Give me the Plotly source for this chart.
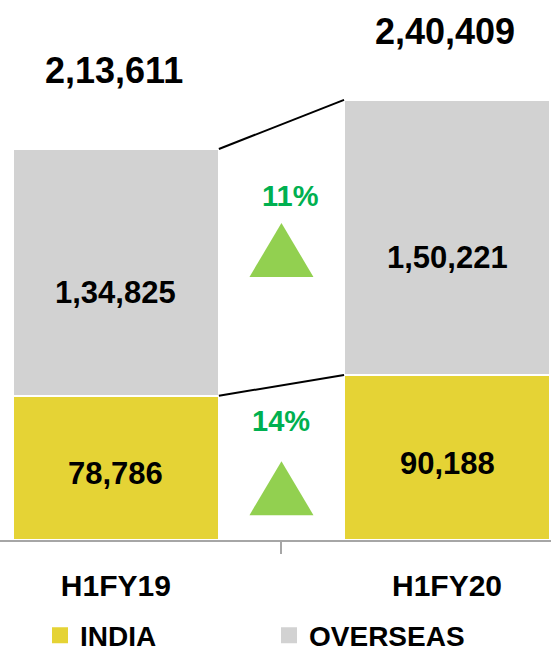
import plotly.graph_objects as go

# data
periods = ['H1FY19', 'H1FY20']
india = [78786, 90188]
overseas = [134825, 150221]
totals = [213611, 240409]
total_labels = ['2,13,611', '2,40,409']
india_labels = ['78,786', '90,188']
overseas_labels = ['1,34,825', '1,50,221']
growth_labels = ['11%', '14%']  # overseas+total growth, india growth

YELLOW = '#E5D335'
GREY = '#D2D2D2'
AXIS = '#A6A6A6'
FONT = 'Liberation Sans, Arial, sans-serif'
BAR_W = 0.622

fig = go.Figure()

fig.add_trace(go.Bar(
    x=periods, y=india, name='INDIA', width=BAR_W, showlegend=False,
    marker=dict(color=YELLOW, line=dict(color='white', width=1.5)),
    hoverinfo='skip'
))
fig.add_trace(go.Bar(
    x=periods, y=overseas, name='OVERSEAS', width=BAR_W, showlegend=False,
    marker=dict(color=GREY, line=dict(color='white', width=1.5)),
    hoverinfo='skip'
))

# legend swatches (bar legend icons are too small)
for name, color in [('INDIA', YELLOW), ('OVERSEAS', GREY)]:
    fig.add_trace(go.Scatter(
        x=[None], y=[None], mode='markers', name=name,
        marker=dict(symbol='square', size=16, color=color),
    ))

# segment labels
for i in range(len(periods)):
    fig.add_annotation(x=periods[i], y=india[i] / 2, text=india_labels[i],
                       showarrow=False, yshift=-6,
                       font=dict(family=FONT, size=31, color='black', weight='bold'))
    fig.add_annotation(x=periods[i], y=india[i] + overseas[i] / 2, text=overseas_labels[i],
                       showarrow=False, yshift=-20,
                       font=dict(family=FONT, size=31, color='black', weight='bold'))

# totals above bars
for i, shift in enumerate([78, 68]):
    fig.add_annotation(x=periods[i], y=totals[i], text=total_labels[i],
                       showarrow=False, yshift=shift, xshift=-2,
                       font=dict(family=FONT, size=36, color='black', weight='bold'))

# connector lines between bar tops
for top0, top1 in [(totals[0], totals[1]), (india[0], india[1])]:
    fig.add_shape(type='line', xref='x', yref='y',
                  x0=0 + BAR_W / 2, y0=top0, x1=1 - BAR_W / 2, y1=top1,
                  line=dict(color='black', width=2))

# growth arrows + percentages
for ypos, label, lab_y, xs in [(0.537, growth_labels[0], 0.637, 9),
                                (0.096, growth_labels[1], 0.187, 0)]:
    fig.add_shape(type='path', xref='x', yref='paper',
                  xsizemode='pixel', ysizemode='pixel',
                  xanchor=0.5, yanchor=ypos,
                  path='M-32,-27 L32,-27 L0,27 Z',
                  fillcolor='#92D050', line=dict(width=0))
    fig.add_annotation(x=0.5, xref='x', y=lab_y, yref='paper', text=label,
                       showarrow=False, xshift=xs,
                       font=dict(family=FONT, size=29, color='#00B050', weight='bold'))

fig.update_layout(
    barmode='stack',
    width=551, height=656,
    margin=dict(l=0, r=0, t=0, b=116, pad=0, autoexpand=False),
    plot_bgcolor='white',
    paper_bgcolor='white',
    showlegend=True,
    legend=dict(
        orientation='h', traceorder='normal',
        x=0.0726, xanchor='left', y=-0.177, yanchor='middle',
        entrywidth=184, entrywidthmode='pixels',
        font=dict(family=FONT, size=28, color='black', weight='bold'),
    ),
    xaxis=dict(
        type='category', range=[-0.35, 1.314],
        tickson='boundaries', ticks='outside', ticklen=12, tickwidth=2,
        tickcolor=AXIS, showline=True, linecolor=AXIS, linewidth=2,
        showgrid=False, ticklabelstandoff=18,
        tickfont=dict(family=FONT, size=30, color='black', weight='bold'),
    ),
    yaxis=dict(visible=False, range=[0, 295000], showgrid=False),
)

# page has default body margin; drop it so the figure fills the window
fig.write_html('out.html', config={'displayModeBar': False},
               post_script="document.body.style.margin='0';"
                           "document.body.style.overflow='hidden';")
